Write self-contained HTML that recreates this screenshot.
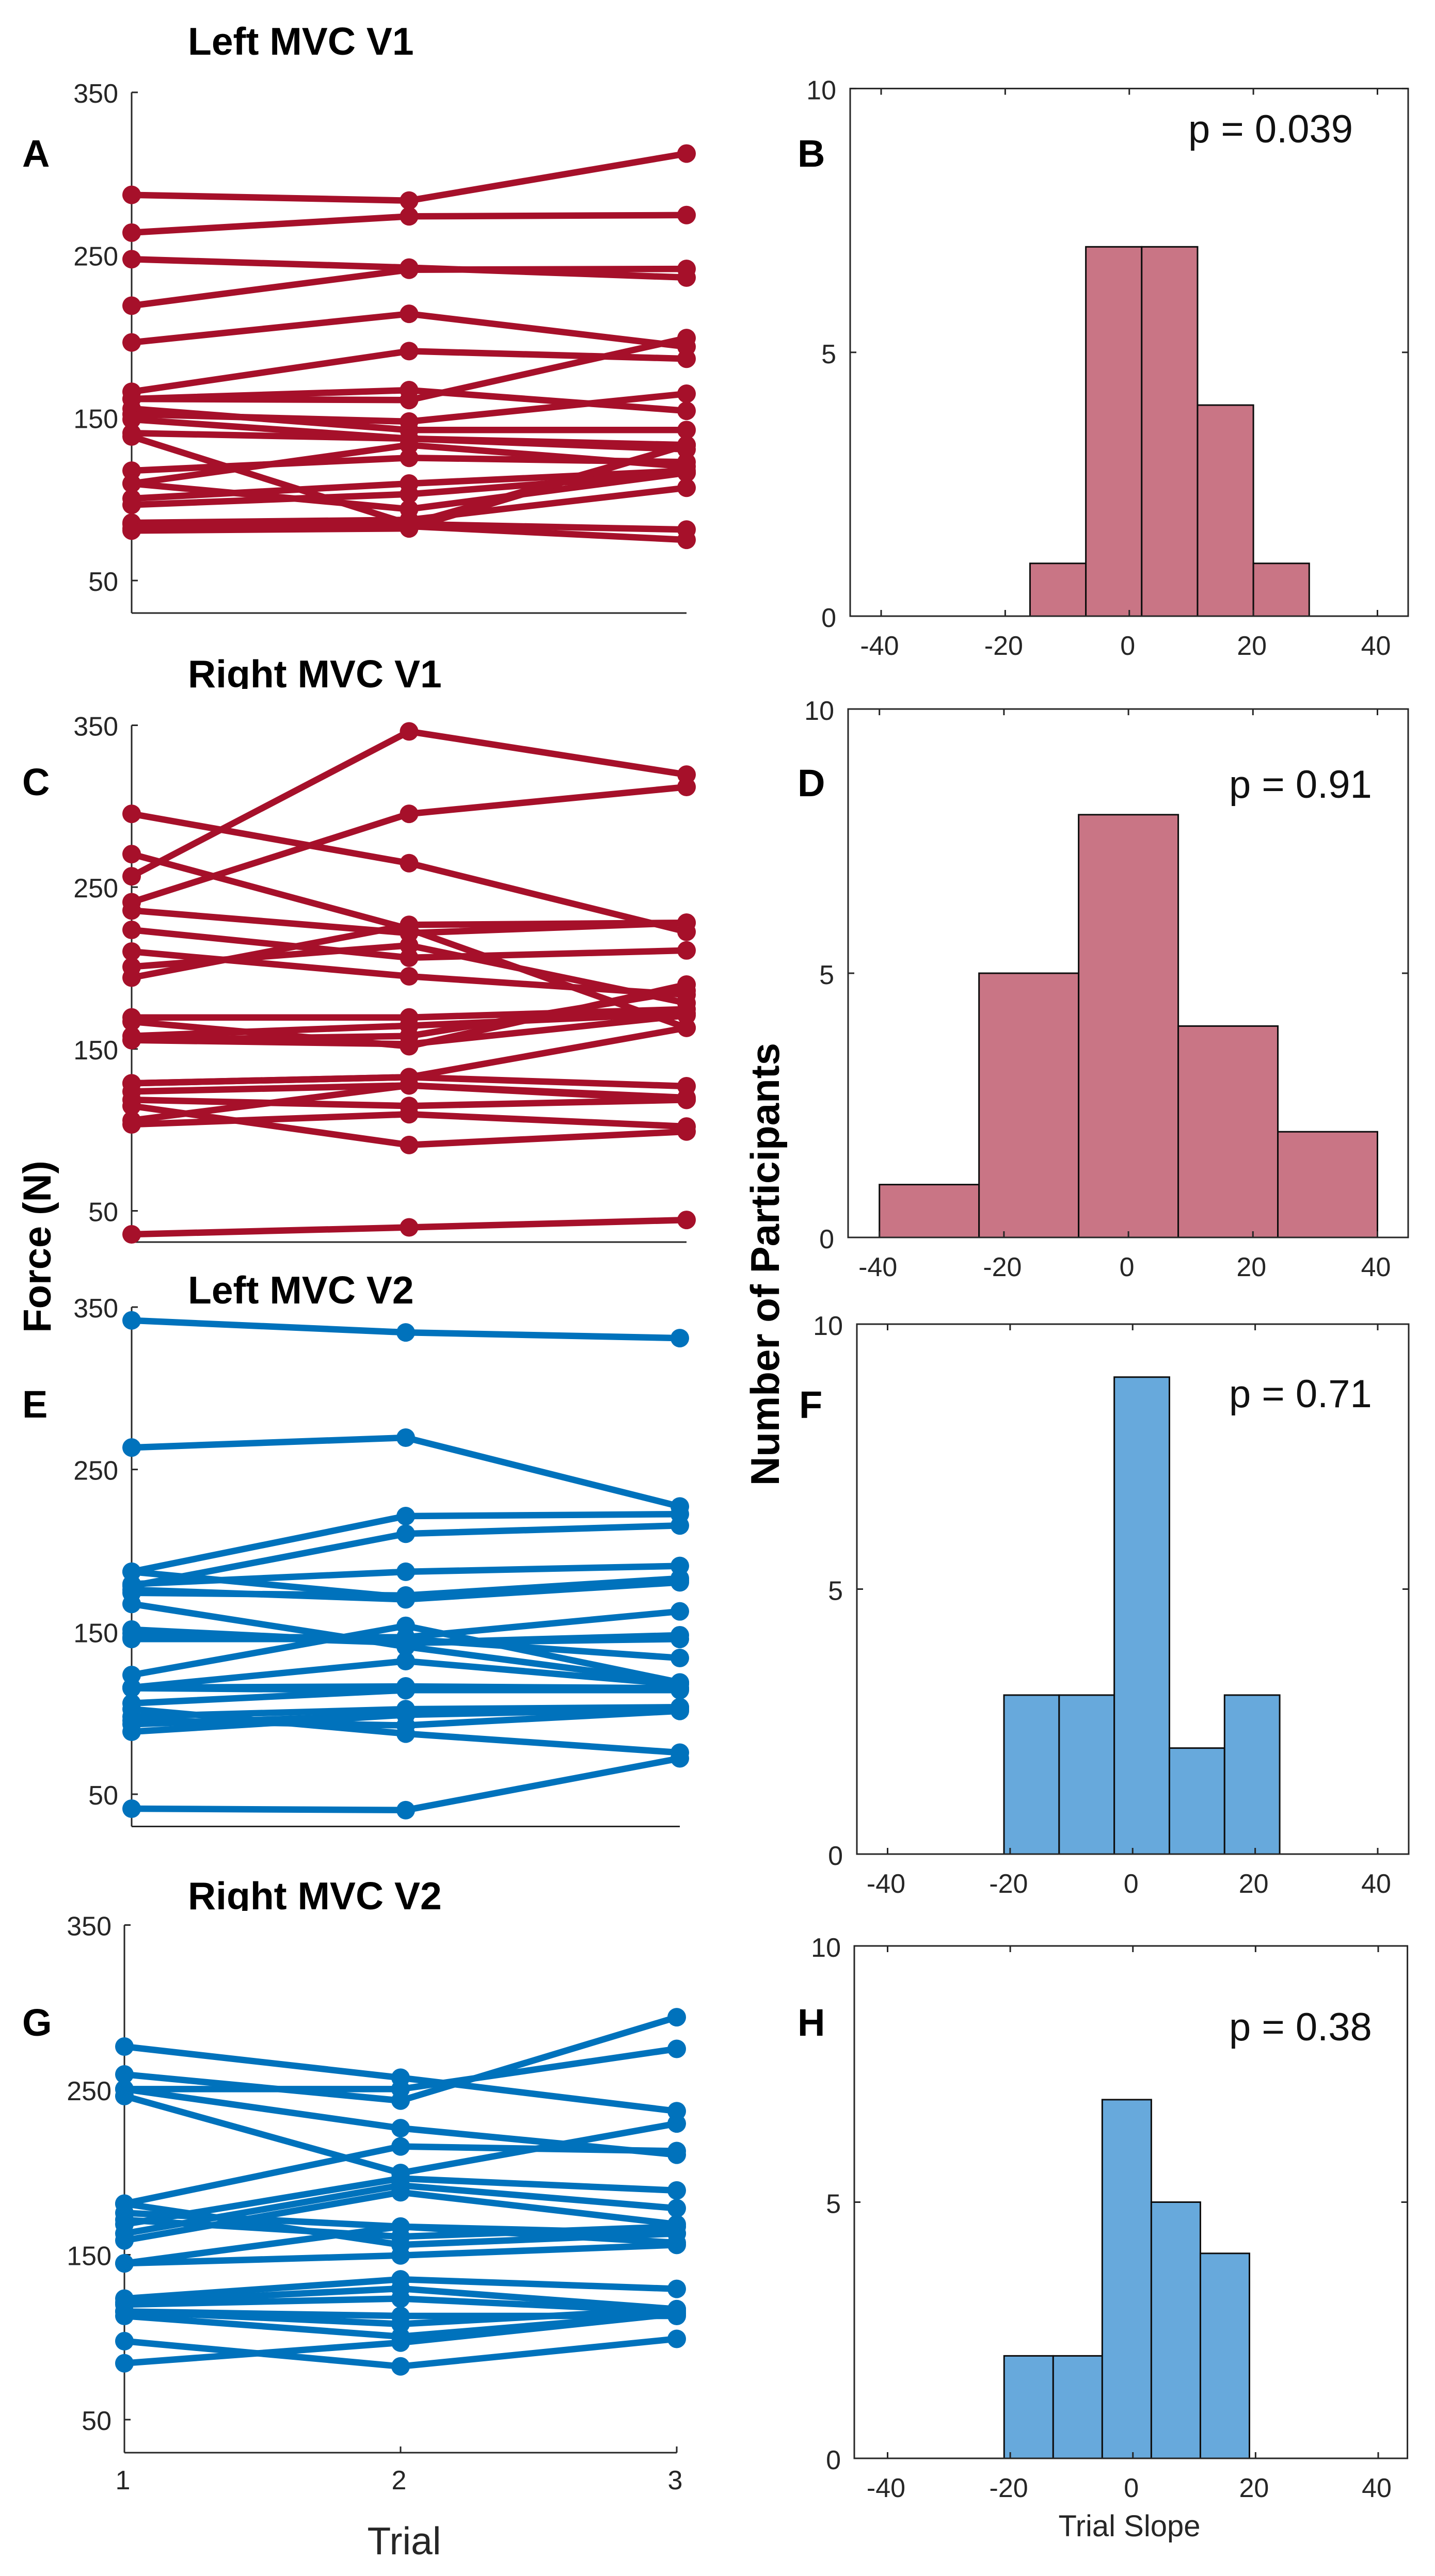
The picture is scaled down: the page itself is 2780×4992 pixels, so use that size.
<!DOCTYPE html>
<html lang="en">
<head>
<meta charset="utf-8">
<title>MVC force by trial and trial slope histograms</title>
<style>
html,body{margin:0;padding:0;background:#fff;}
svg{display:block;}
text{font-family:"Liberation Sans",Arial,sans-serif;fill:#262626;}
.title{font-size:75px;font-weight:700;fill:#000;}
.letter{font-size:74px;font-weight:700;fill:#000;}
.bold-label{font-size:76px;font-weight:700;fill:#000;}
.bold-label-wide{font-size:78px;font-weight:700;fill:#000;}
.pval{font-size:76px;fill:#111;}
.tick{font-size:52px;}
</style>
</head>
<body>
<svg id="figure" xmlns="http://www.w3.org/2000/svg" width="2780" height="4992" viewBox="0 0 2780 4992">
  <rect x="0" y="0" width="2780" height="4992" fill="#fff"/>
  <g id="plots"></g>

  <text class="title" x="364" y="106">Left MVC V1</text>
  <text class="title" x="364" y="1332">Right MVC V1</text>
  <rect x="340" y="1335" width="500" height="26" fill="#fff"/>
  <text class="title" x="364" y="2526">Left MVC V2</text>
  <text class="title" x="364" y="3700">Right MVC V2</text>
  <rect x="340" y="3703" width="500" height="22" fill="#fff"/>

  <text class="letter" x="43" y="323">A</text>
  <text class="letter" x="1545" y="323">B</text>
  <text class="letter" x="43" y="1541">C</text>
  <text class="letter" x="1545" y="1543">D</text>
  <text class="letter" x="43" y="2747">E</text>
  <text class="letter" x="1548" y="2748">F</text>
  <text class="letter" x="43" y="3945">G</text>
  <text class="letter" x="1545" y="3945">H</text>

  <text class="pval" x="2302" y="276">p = 0.039</text>
  <text class="pval" x="2381" y="1546">p = 0.91</text>
  <text class="pval" x="2381" y="2727">p = 0.71</text>
  <text class="pval" x="2381" y="3954">p = 0.38</text>

  <text class="bold-label" text-anchor="middle" transform="translate(98 2416) rotate(-90)">Force (N)</text>
  <text class="bold-label-wide" text-anchor="middle" transform="translate(1509 2450) rotate(-90)">Number of Participants</text>
  <text x="783" y="4950" text-anchor="middle" font-size="75">Trial</text>
  <text x="2188" y="4915" text-anchor="middle" font-size="58">Trial Slope</text>
</svg>

<script>
// ---- chart data ----
const trials = [1, 2, 3];
const forceTicks = [50, 150, 250, 350];
const slopeTicks = [-40, -20, 0, 20, 40];
const countTicks = [0, 5, 10];

const leftV1 = [
  [287, 283.5, 312.4], [263.8, 273.8, 274.6], [247.5, 242.3, 236.2], [218.9, 241, 241.5],
  [196.3, 213.9, 193.7], [166, 191, 186.3], [161.6, 160.9, 199], [161.6, 167, 154.3],
  [152.2, 147.7, 164.8], [155.6, 142.5, 142.5], [149, 137.2, 133.3], [140.6, 137.2, 130.6],
  [138.5, 84.7, 133.3], [117.5, 125.4, 122.8], [109.6, 133.3, 120.1], [109.6, 93.9, 116.2],
  [100.4, 109.6, 117.5], [96.5, 103.1, 116.2], [85.5, 87.3, 107], [84.7, 84.7, 81.3],
  [82, 83.4, 75], [80.7, 82, 133.3]
];
const rightV1 = [
  [256.7, 346.2, 319.5], [240.7, 295.3, 311.9], [295.3, 264.8, 222.4], [270.4, 224.1, 163.1],
  [235.6, 221.6, 228], [223.6, 206.4, 210.9], [210.2, 194.9, 183.5], [200.8, 214, 178.4],
  [194.1, 226.7, 228], [169.5, 169.5, 174.6], [166.9, 151.7, 189.8], [158, 164.4, 172],
  [155.5, 158, 186], [155.5, 153, 170.8], [128.8, 132.6, 163.1], [128.8, 132.6, 127],
  [123.7, 127.5, 119.9], [118.6, 114.8, 118.6], [114.8, 90.7, 99], [105.9, 127.5, 118.6],
  [103.4, 109.7, 102.1], [35.5, 39.8, 44.4]
];
const leftV2 = [
  [341.8, 334.4, 330.9], [263.5, 269.6, 227.2], [187, 221.3, 222.5], [178.2, 210.4, 215.5],
  [179.4, 187, 190.6], [187, 171.2, 181.7], [174, 172.4, 182.9], [175.9, 170, 180.5],
  [167.2, 140.9, 118.8], [151.4, 143.2, 147.9], [149.1, 143.2, 145.6], [145.6, 145.6, 133.9],
  [123.4, 153.7, 118.8], [146.7, 146.7, 162.6], [115.7, 132, 117.6], [115.7, 116.4, 115.3],
  [115.3, 114.1, 114.1], [106, 114.1, 115.3], [102.4, 87.3, 75.6], [97.8, 102.4, 103.6],
  [95.4, 92.4, 101.3], [93.1, 98.9, 103.6], [88.5, 98.9, 102.4], [41.1, 40.2, 72.1]
];
const rightV2 = [
  [276.3, 257.4, 237.1], [259.4, 243.5, 294.1], [250.5, 250.5, 274.9], [250.5, 226.8, 210.7],
  [246.3, 199.6, 229.6], [181, 215.7, 212.9], [181, 156, 162.9], [175.4, 167.1, 162.9],
  [168.5, 196.3, 189], [162.9, 192.1, 178.2], [158.7, 187.9, 168.5], [144.8, 167.1, 157.3],
  [144.8, 149.6, 156], [171.2, 161, 167.1], [123.4, 135.1, 129.3], [121.2, 129.5, 117],
  [119.8, 123.4, 115.6], [115.6, 112.9, 112.9], [115.6, 108, 117], [112.9, 100.4, 114.3],
  [97.6, 82.3, 99], [84.2, 96.7, 114.3]
];

const histBEdges = [-16, -7, 2, 11, 20, 29];
const histBCounts = [1, 7, 7, 4, 1];
const histDEdges = [-40, -24, -8, 8, 24, 40];
const histDCounts = [1, 5, 8, 4, 2];
const histFEdges = [-21, -12, -3, 6, 15, 24];
const histFCounts = [3, 3, 9, 2, 3];
const histHEdges = [-21, -13, -5, 3, 11, 19];
const histHCounts = [2, 2, 7, 5, 4];

// ---- rendering ----
const SVG_NS = 'http://www.w3.org/2000/svg';
const root = document.getElementById('plots');
const AXIS = '#262626';

function make(parent, tag, attrs, name) {
  const el = document.createElementNS(SVG_NS, tag);
  for (const k in attrs) el.setAttribute(k, attrs[k]);
  
  
  parent.appendChild(el);
  return el;
}

function label(parent, x, y, anchor, str, name) {
  const t = make(parent, 'text', { x: x, y: y, 'text-anchor': anchor, class: 'tick' }, name);
  t.textContent = str;
  return t;
}

function linePanel(id, rows, color, g, showX) {
  const group = make(root, 'g', {}, 'line-panel-' + id);
  const xScale = t => g.x0 + (t - trials[0]) * (g.x1 - g.x0) / (trials[trials.length - 1] - trials[0]);
  const yScale = v => g.y50 - (v - 50) * (g.y50 - g.y350) / 300;

  make(group, 'line', { x1: g.x0, x2: g.x0, y1: g.y350, y2: g.bottom, stroke: AXIS, 'stroke-width': 3 }, 'y-axis-line');
  make(group, 'line', { x1: g.x0, x2: g.x1, y1: g.bottom, y2: g.bottom, stroke: AXIS, 'stroke-width': 3 }, 'x-axis-line');
  forceTicks.forEach(function (v) {
    make(group, 'line', { x1: g.x0, x2: g.x0 + 12, y1: yScale(v), y2: yScale(v), stroke: AXIS, 'stroke-width': 3 }, 'y-tick');
    label(group, g.labelX, yScale(v) + 20, 'end', String(v), 'y-tick-label');
  });
  if (showX) {
    trials.forEach(function (t) {
      make(group, 'line', { x1: xScale(t), x2: xScale(t), y1: g.bottom, y2: g.bottom - 12, stroke: AXIS, 'stroke-width': 3 }, 'x-tick');
      label(group, xScale(t) - 3, g.bottom + 71, 'middle', String(t), 'x-tick-label');
    });
  }

  rows.forEach(function (row, i) {
    const s = make(group, 'g', {}, 'participant-' + (i + 1));
    const pts = row.map((v, j) => xScale(trials[j]).toFixed(1) + ',' + yScale(v).toFixed(1)).join(' ');
    make(s, 'polyline', { points: pts, fill: 'none', stroke: color, 'stroke-width': 12.5, 'stroke-linejoin': 'round' }, 'participant-line');
    row.forEach(function (v, j) {
      make(s, 'circle', { cx: xScale(trials[j]), cy: yScale(v), r: 18, fill: color }, 'participant-marker');
    });
  });
}

function histPanel(id, edges, counts, color, g) {
  const group = make(root, 'g', {}, 'histogram-panel-' + id);
  const xScale = v => g.xm40 + (v + 40) * (g.xp40 - g.xm40) / 80;
  const yScale = c => g.bottom - c * (g.bottom - g.top) / 10;

  counts.forEach(function (c, i) {
    make(group, 'rect', {
      x: xScale(edges[i]), y: yScale(c),
      width: xScale(edges[i + 1]) - xScale(edges[i]),
      height: yScale(0) - yScale(c),
      fill: color, stroke: '#0d0d0d', 'stroke-width': 3
    }, 'histogram-bar');
  });

  make(group, 'rect', { x: g.left, y: g.top, width: g.right - g.left, height: g.bottom - g.top, fill: 'none', stroke: AXIS, 'stroke-width': 3 }, 'axes-box');
  slopeTicks.forEach(function (v) {
    make(group, 'line', { x1: xScale(v), x2: xScale(v), y1: g.bottom, y2: g.bottom - 12, stroke: AXIS, 'stroke-width': 3 }, 'x-tick');
    make(group, 'line', { x1: xScale(v), x2: xScale(v), y1: g.top, y2: g.top + 12, stroke: AXIS, 'stroke-width': 3 }, 'x-tick-top');
    label(group, xScale(v) - 3, g.bottom + 75, 'middle', String(v), 'x-tick-label');
  });
  countTicks.forEach(function (c) {
    make(group, 'line', { x1: g.left, x2: g.left + 12, y1: yScale(c), y2: yScale(c), stroke: AXIS, 'stroke-width': 3 }, 'y-tick');
    make(group, 'line', { x1: g.right, x2: g.right - 12, y1: yScale(c), y2: yScale(c), stroke: AXIS, 'stroke-width': 3 }, 'y-tick-right');
    label(group, g.labelX, yScale(c) + 21, 'end', String(c), 'y-tick-label');
  });
}

const RED = '#A6102A';
const BLUE = '#0072BC';
const ROSE = '#C97585';
const SKY = '#67A9DC';

linePanel('a', leftV1, RED, { x0: 255, x1: 1330, y350: 179, y50: 1125, bottom: 1188, labelX: 229 }, false);
linePanel('c', rightV1, RED, { x0: 255, x1: 1330, y350: 1405.5, y50: 2346.5, bottom: 2407, labelX: 229 }, false);
linePanel('e', leftV2, BLUE, { x0: 255, x1: 1317, y350: 2533, y50: 3477, bottom: 3539.5, labelX: 229 }, false);
linePanel('g', rightV2, BLUE, { x0: 241, x1: 1311, y350: 3730.5, y50: 4689, bottom: 4753, labelX: 216 }, true);

histPanel('b', histBEdges, histBCounts, ROSE, { left: 1647, right: 2728, top: 171.6, bottom: 1194, xm40: 1707, xp40: 2668.5, labelX: 1620 });
histPanel('d', histDEdges, histDCounts, ROSE, { left: 1643, right: 2728, top: 1374, bottom: 2398, xm40: 1703.7, xp40: 2668.5, labelX: 1616 });
histPanel('f', histFEdges, histFCounts, SKY, { left: 1660, right: 2729, top: 2566, bottom: 3593, xm40: 1719.5, xp40: 2669, labelX: 1633 });
histPanel('h', histHEdges, histHCounts, SKY, { left: 1655, right: 2726.6, top: 3771, bottom: 4764, xm40: 1719.5, xp40: 2670, labelX: 1629 });
</script>
</body>
</html>
